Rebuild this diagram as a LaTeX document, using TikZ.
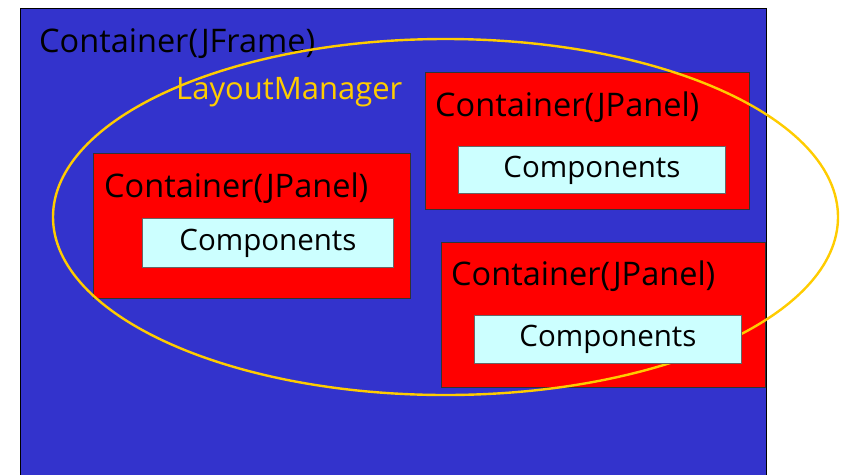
\documentclass[tikz,border=0pt]{standalone}
\usepackage{fontspec}
\setmainfont{Open Sans}
\usetikzlibrary{positioning,calc}

\definecolor{frameblue}{RGB}{51,51,204}
\definecolor{panelred}{RGB}{255,0,0}
\definecolor{compcyan}{RGB}{204,255,255}
\definecolor{mgryellow}{RGB}{255,204,0}

\tikzset{
  panel/.style={draw=black!80, fill=panelred, line width=0.8pt, anchor=north west, inner sep=0pt},
  comp/.style={draw=black!60, fill=compcyan, line width=0.8pt, anchor=north west, inner sep=0pt,
               font=\fontsize{29.5}{31}\selectfont},
  title/.style={anchor=west, inner sep=0pt, font=\fontsize{32.5}{34}\selectfont},
}

\begin{document}
\begin{tikzpicture}[x=1pt, y=-1pt]

    \useasboundingbox (0,0) rectangle (845,474);

    % the frame
    \node[draw=black, fill=frameblue, line width=0.8pt, anchor=north west, inner sep=0pt,
          minimum width=746pt, minimum height=470pt] (frame) at (20,8) {};
    \node[title] (frametitle) at (39,44) {Container(JFrame)};

    % panels
    \node[panel, minimum width=317pt, minimum height=145pt] (left) at (93,153) {};
    \node[panel, minimum width=324pt, minimum height=137pt] (topright) at (425,72) {};
    \node[panel, minimum width=324pt, minimum height=145pt] (botright) at (441,242) {};

    % layout manager
    \coordinate (lmcenter) at (445.5,217);
    \draw[mgryellow, line width=2.4pt] (lmcenter) ellipse [x radius=392.5pt, y radius=178pt];
    \node[title, text=mgryellow, font=\fontsize{31}{33}\selectfont] (lm) at (176,92) {LayoutManager};

    \node[title] (lefttitle) at ([xshift=11pt, yshift=-35pt]left.north west) {Container(JPanel)};
    \node[title] (toptitle) at ([xshift=10pt, yshift=-35pt]topright.north west) {Container(JPanel)};
    \node[title] (bottitle) at ([xshift=10pt, yshift=-34pt]botright.north west) {Container(JPanel)};

    % components
    \node[comp, minimum width=251pt, minimum height=49pt] (leftcomp) at (142,218) {\raisebox{-2pt}{Components}};
    \node[comp, minimum width=267pt, minimum height=47pt] (topcomp) at (458,146) {\raisebox{-2pt}{Components}};
    \node[comp, minimum width=267pt, minimum height=48pt] (botcomp) at (474,315) {\raisebox{-2pt}{Components}};

\end{tikzpicture}
\end{document}
